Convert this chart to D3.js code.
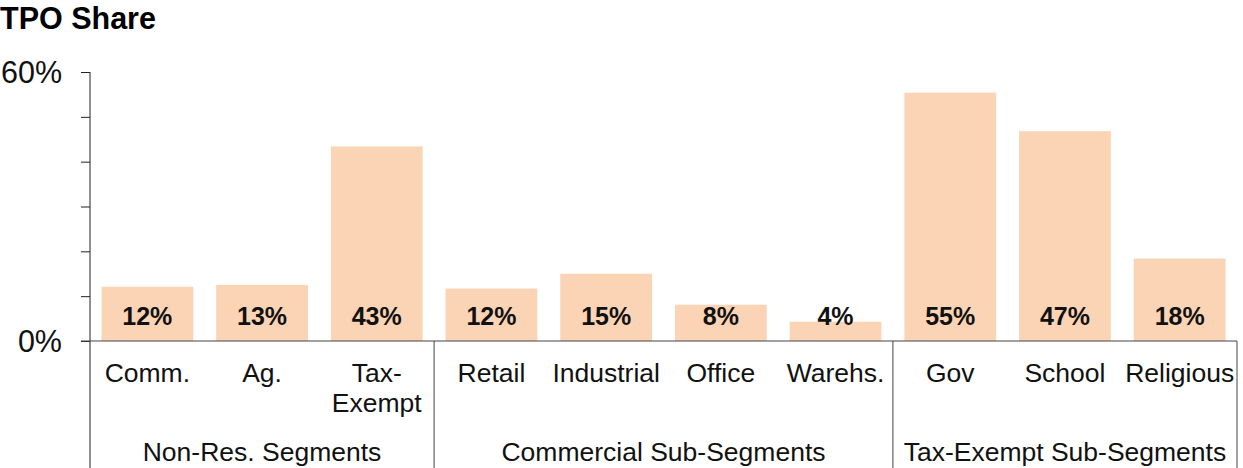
<!DOCTYPE html>
<html>
<head>
<meta charset="utf-8">
<script src="https://cdn.jsdelivr.net/npm/d3@7"></script>
<style>
  body { margin: 0; background: #fff; }
  svg { display: block; font-family: "Liberation Sans", Arial, sans-serif; }
</style>
</head>
<body>
<div id="chart"></div>
<script>
// chart data
const categories = ['Comm.', 'Ag.', 'Tax-\nExempt', 'Retail', 'Industrial', 'Office', 'Warehs.', 'Gov', 'School', 'Religious'];
const shares = [0.121, 0.125, 0.434, 0.117, 0.150, 0.081, 0.043, 0.554, 0.468, 0.184];
const groupNames = ['Non-Res. Segments', 'Commercial Sub-Segments', 'Tax-Exempt Sub-Segments'];
const groupSizes = [3, 4, 3];
const yTicks = [0, 0.1, 0.2, 0.3, 0.4, 0.5, 0.6];

const width = 1243, height = 468;
const axisX = 90, baseY = 341, topY = 72, rightX = 1237;

const svg = d3.select('#chart')
  .append('svg')
  .attr('width', width)
  .attr('height', height);

const x = d3.scaleBand()
  .domain(d3.range(categories.length))
  .range([axisX, rightX])
  .paddingInner(0.2)
  .paddingOuter(0.1);

const y = d3.scaleLinear()
  .domain([0, 0.6])
  .range([baseY, topY]);

// title
svg.append('text')
  .attr('x', 0)
  .attr('y', 29)
  .attr('font-size', 30.5)
  .attr('font-weight', 'bold')
  .attr('fill', '#000')
  .text('TPO Share');

// bars
svg.append('g')
  .selectAll('rect')
  .data(shares)
  .join('rect')
  .attr('x', (d, i) => x(i))
  .attr('y', d => y(d))
  .attr('width', x.bandwidth())
  .attr('height', d => y(0) - y(d))
  .attr('fill', '#FAD4B5');

// value labels, all sitting just above the baseline
svg.append('g')
  .selectAll('text')
  .data(shares)
  .join('text')
  .attr('x', (d, i) => x(i) + x.bandwidth() / 2)
  .attr('y', baseY - 16)
  .attr('text-anchor', 'middle')
  .attr('font-size', 25)
  .attr('font-weight', 'bold')
  .attr('fill', '#111')
  .text(d => Math.round(d * 100) + '%');

// y axis
const yAxis = svg.append('g')
  .attr('transform', `translate(${axisX},0)`)
  .call(d3.axisLeft(y)
    .tickValues(yTicks)
    .tickSize(9)
    .tickPadding(19)
    .tickFormat(d => (d === 0 || d === 0.6) ? d3.format('.0%')(d) : ''));
yAxis.select('.domain').remove();
yAxis.selectAll('.tick line').attr('stroke', '#222');
yAxis.selectAll('.tick text')
  .attr('font-size', 30.5)
  .attr('font-family', '"Liberation Sans", Arial, sans-serif')
  .attr('fill', '#111')
  .attr('dy', '0.36em');

svg.append('line')
  .attr('x1', axisX).attr('x2', axisX)
  .attr('y1', topY).attr('y2', height)
  .attr('stroke', '#222');

// baseline
svg.append('line')
  .attr('x1', axisX - 9).attr('x2', rightX)
  .attr('y1', baseY).attr('y2', baseY)
  .attr('stroke', '#444');

// category labels
const catG = svg.append('g');
categories.forEach((c, i) => {
  const t = catG.append('text')
    .attr('x', x(i) + x.bandwidth() / 2)
    .attr('y', 382)
    .attr('text-anchor', 'middle')
    .attr('font-size', 26.5)
    .attr('fill', '#111');
  c.split('\n').forEach((line, j) => {
    t.append('tspan')
      .attr('x', x(i) + x.bandwidth() / 2)
      .attr('dy', j === 0 ? 0 : 30)
      .text(line);
  });
});

// group separators and group labels
let start = 0;
groupSizes.forEach((n, gi) => {
  const end = start + n;
  const half = x.step() * x.paddingInner() / 2;
  const left = gi === 0 ? axisX : axisX + x.step() * (start + x.paddingOuter()) - half;
  const right = end === categories.length ? rightX : axisX + x.step() * (end + x.paddingOuter()) - half;
  svg.append('line')
    .attr('x1', right).attr('x2', right)
    .attr('y1', baseY).attr('y2', height)
    .attr('stroke', '#444');
  svg.append('text')
    .attr('x', (left + right) / 2)
    .attr('y', 461)
    .attr('text-anchor', 'middle')
    .attr('font-size', 26.5)
    .attr('fill', '#111')
    .text(groupNames[gi]);
  start = end;
});
</script>
</body>
</html>
